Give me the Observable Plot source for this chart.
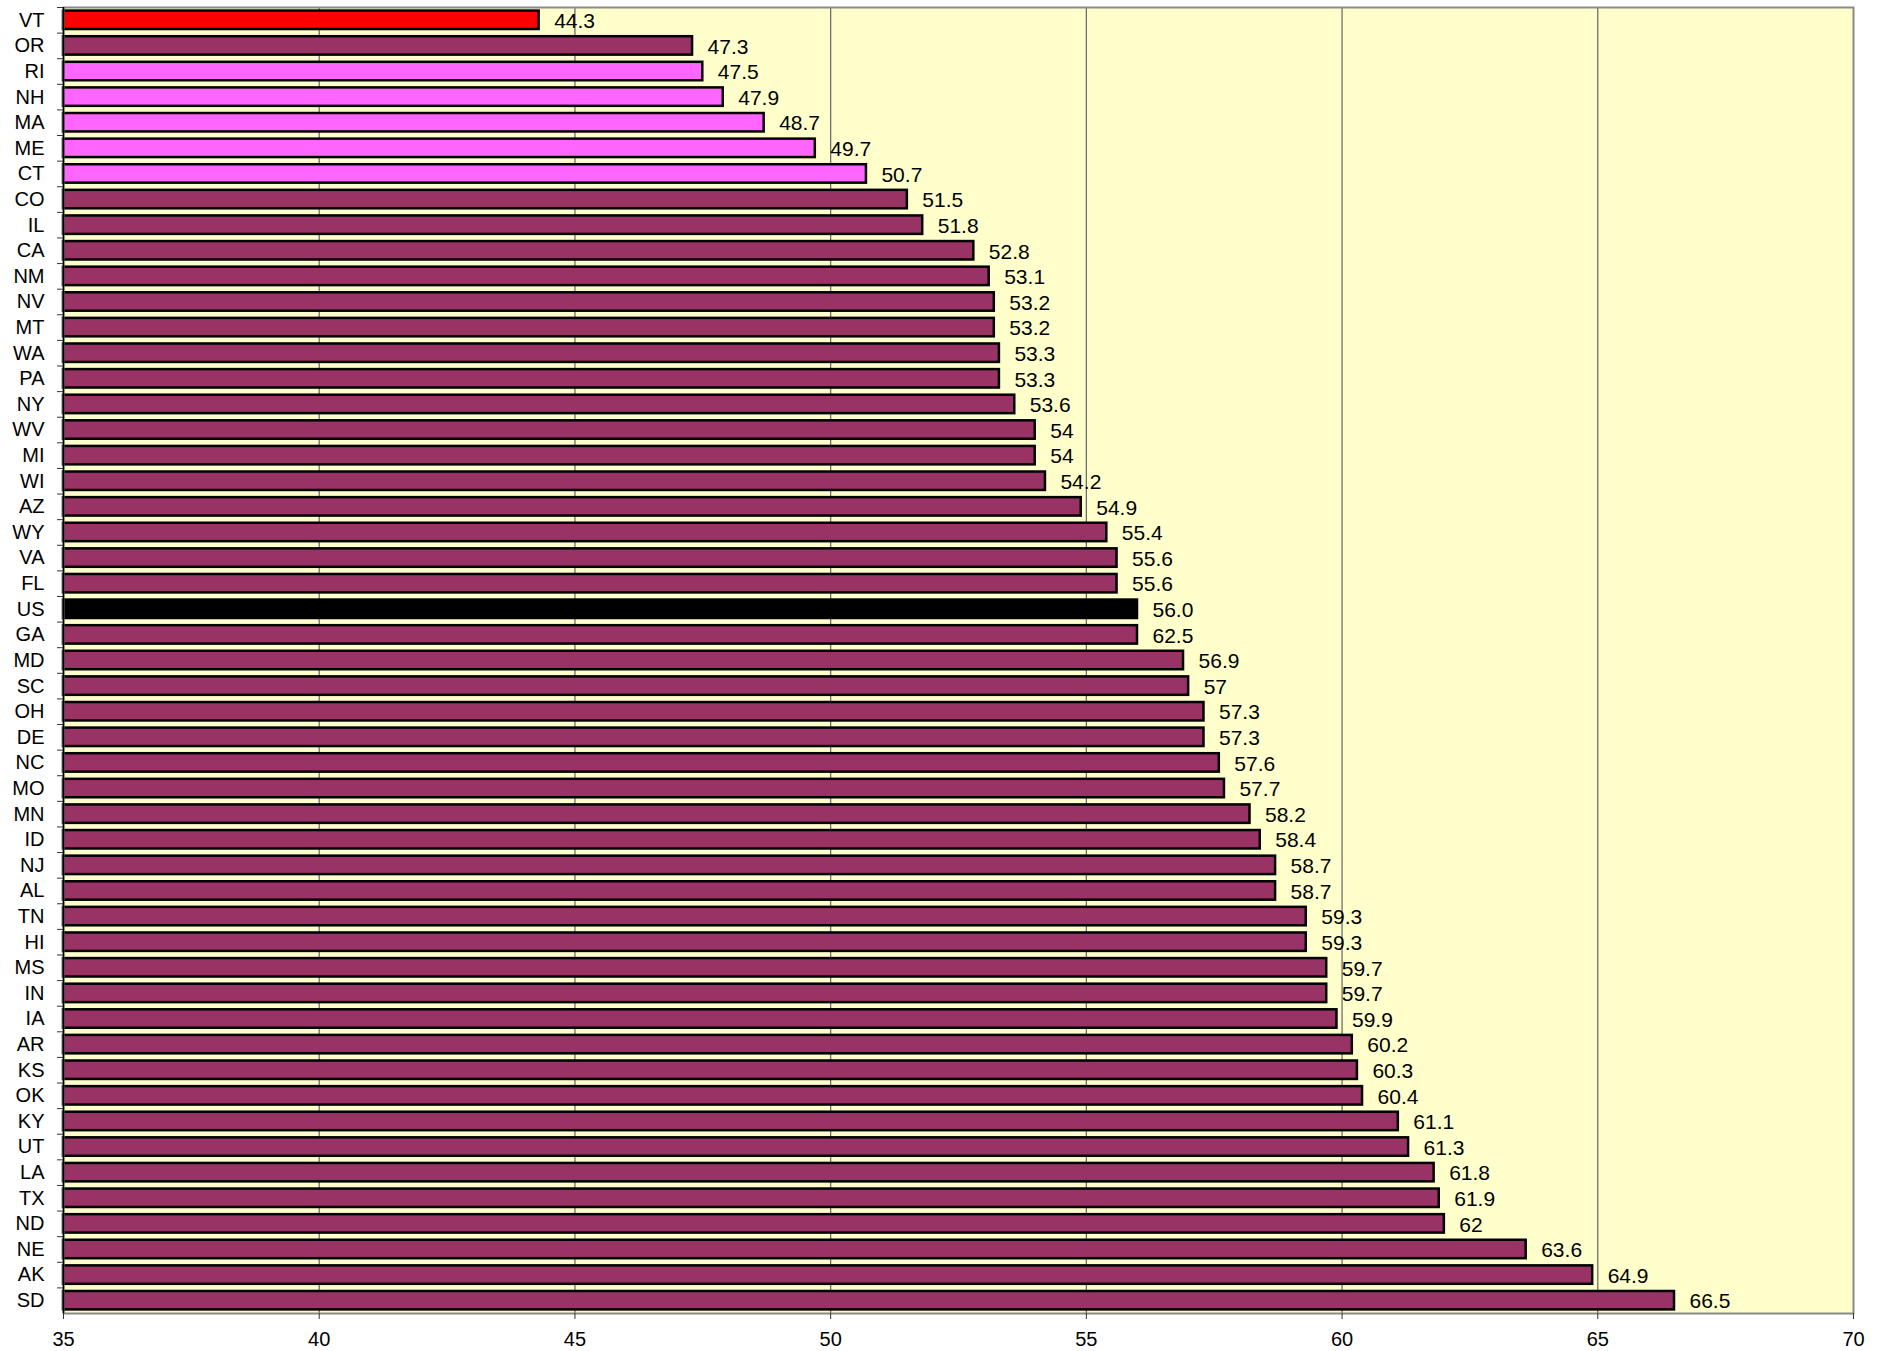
<!DOCTYPE html>
<html>
<head>
<meta charset="utf-8">
<script src="https://cdn.jsdelivr.net/npm/d3@7"></script>
<script src="https://cdn.jsdelivr.net/npm/@observablehq/plot@0.6"></script>
<style>
  html, body { margin: 0; padding: 0; background: #ffffff; }
  svg { display: block; }
</style>
</head>
<body>
<div id="chart"></div>
<script>
const states = ["VT","OR","RI","NH","MA","ME","CT","CO","IL","CA","NM","NV","MT","WA","PA","NY","WV","MI","WI","AZ","WY","VA","FL","US","GA","MD","SC","OH","DE","NC","MO","MN","ID","NJ","AL","TN","HI","MS","IN","IA","AR","KS","OK","KY","UT","LA","TX","ND","NE","AK","SD"];
const values = [44.3,47.3,47.5,47.9,48.7,49.7,50.7,51.5,51.8,52.8,53.1,53.2,53.2,53.3,53.3,53.6,54,54,54.2,54.9,55.4,55.6,55.6,56.0,56.0,56.9,57,57.3,57.3,57.6,57.7,58.2,58.4,58.7,58.7,59.3,59.3,59.7,59.7,59.9,60.2,60.3,60.4,61.1,61.3,61.8,61.9,62,63.6,64.9,66.5];
const labels = ["44.3","47.3","47.5","47.9","48.7","49.7","50.7","51.5","51.8","52.8","53.1","53.2","53.2","53.3","53.3","53.6","54","54","54.2","54.9","55.4","55.6","55.6","56.0","62.5","56.9","57","57.3","57.3","57.6","57.7","58.2","58.4","58.7","58.7","59.3","59.3","59.7","59.7","59.9","60.2","60.3","60.4","61.1","61.3","61.8","61.9","62","63.6","64.9","66.5"];
const groups = ["low","region","ne","ne","ne","ne","ne","region","region","region","region","region","region","region","region","region","region","region","region","region","region","region","region","us","region","region","region","region","region","region","region","region","region","region","region","region","region","region","region","region","region","region","region","region","region","region","region","region","region","region","region"];
const xTicks = [35,40,45,50,55,60,65,70];
const xMin = 35, xMax = 70;

const data = states.map((s, i) => ({state: s, value: values[i], label: labels[i], group: groups[i]}));

const W = 1887, H = 1351;
const mL = 63, mR = 34, mT = 7, mB = 38;
const pad = 0.28;
const step = (H - mT - mB) / states.length;

const chart = Plot.plot({
  width: W,
  height: H,
  marginLeft: mL,
  marginRight: mR,
  marginTop: mT,
  marginBottom: mB,
  style: {fontFamily: "'Liberation Sans', Arial, sans-serif", background: "#ffffff", color: "#000"},
  x: {domain: [xMin, xMax]},
  y: {domain: states, paddingInner: pad, paddingOuter: pad / 2},
  color: {domain: ["low","region","ne","us"], range: ["#ff0000","#993366","#ff66ff","#000000"]},
  marks: [
    Plot.frame({fill: "#ffffcc", stroke: "none"}),
    Plot.ruleX(xTicks.filter(t => t > xMin && t < xMax), {stroke: "#6e6e6e", strokeWidth: 1.3}),
    Plot.barX(data, {y: "state", x1: () => xMin, x2: "value", fill: "group", stroke: "#000", strokeWidth: 2.5}),
    Plot.text(data, {y: "state", x: "value", text: "label", textAnchor: "start", dx: 15, dy: 1, fontSize: 21, fill: "#000"}),
    Plot.frame({stroke: "#8a8a8a", strokeWidth: 2}),
    Plot.ruleX([xMin], {stroke: "#000", strokeWidth: 1.5}),
    Plot.axisX({ticks: xTicks, tickSize: 6, tickPadding: 12, fontSize: 20, label: null, stroke: "#333"}),
    Plot.axisY({tickSize: 0, tickPadding: 19, fontSize: 20, label: null}),
    Plot.axisY({tickSize: 6, tickFormat: () => "", dy: -step / 2, label: null, stroke: "#333"})
  ]
});
document.getElementById("chart").appendChild(chart);
</script>
</body>
</html>
